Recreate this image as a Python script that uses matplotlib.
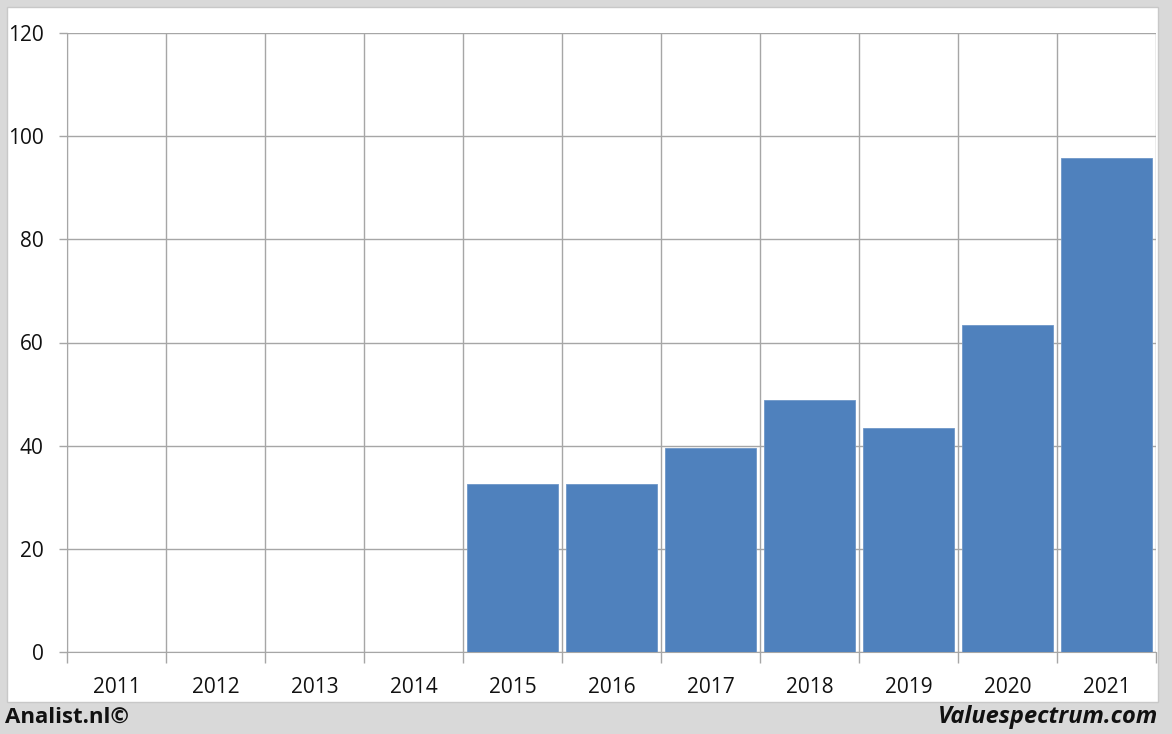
import matplotlib.pyplot as plt
from matplotlib.patches import Rectangle
import numpy as np

# Данные
years = ['2011', '2012', '2013', '2014', '2015', '2016', '2017', '2018', '2019', '2020', '2021']
values = [np.nan, np.nan, np.nan, np.nan, 32.6, 32.6, 39.5, 48.9, 43.4, 63.4, 95.8]
y_ticks = [0, 20, 40, 60, 80, 100, 120]

plt.rcParams['font.family'] = ['Open Sans', 'DejaVu Sans']

fig = plt.figure(figsize=(11.72, 7.34), dpi=100)
fig.patch.set_facecolor('#d9d9d9')

# белая панель
W, H = 1172, 734
fig.patches.append(Rectangle((7 / W, 1 - 702 / H), 1151 / W, 695 / H,
                             transform=fig.transFigure, facecolor='white',
                             edgecolor='#c8c8c8', linewidth=1, zorder=-10))

ax = fig.add_axes([67 / W, 1 - 652 / H, (1156 - 67) / W, (652 - 33) / H])
ax.set_zorder(5)
ax.set_facecolor('none')

x = np.arange(len(years))
ax.bar(x, values, width=0.92, color='#4f81bd', edgecolor='#6f97c8', linewidth=0.6, zorder=3)

ax.set_xlim(-0.5, len(years) - 0.5)
ax.set_ylim(0, 120)

grid_color = '#a6a6a6'
# вертикальные линии по границам категорий
ax.set_xticks(x)
ax.set_xticklabels(years, fontsize=15, color='#111111')
ax.set_xticks(np.arange(len(years) + 1) - 0.5, minor=True)
ax.tick_params(axis='x', which='major', length=0, pad=18)
ax.tick_params(axis='x', which='minor', length=8, color=grid_color, width=1)
ax.grid(True, axis='x', which='minor', color=grid_color, linewidth=1, zorder=1)

ax.set_yticks(y_ticks)
ax.set_yticklabels([str(v) for v in y_ticks], fontsize=15, color='#111111')
ax.tick_params(axis='y', length=6, color=grid_color, width=1, pad=11)
ax.grid(True, axis='y', which='major', color=grid_color, linewidth=1, zorder=1)
ax.set_axisbelow(True)

for s in ['top', 'right']:
    ax.spines[s].set_visible(False)
ax.spines['left'].set_color(grid_color)
ax.spines['bottom'].set_color(grid_color)

fig.text(5 / W, 1 - 717 / H, 'Analist.nl©', fontsize=16, fontweight='bold',
         ha='left', va='center', color='#111111')
fig.text(1158 / W, 1 - 717 / H, 'Valuespectrum.com', fontsize=17, fontweight='bold',
         fontstyle='italic', ha='right', va='center', color='#111111')

plt.savefig('out.png', dpi=100)
